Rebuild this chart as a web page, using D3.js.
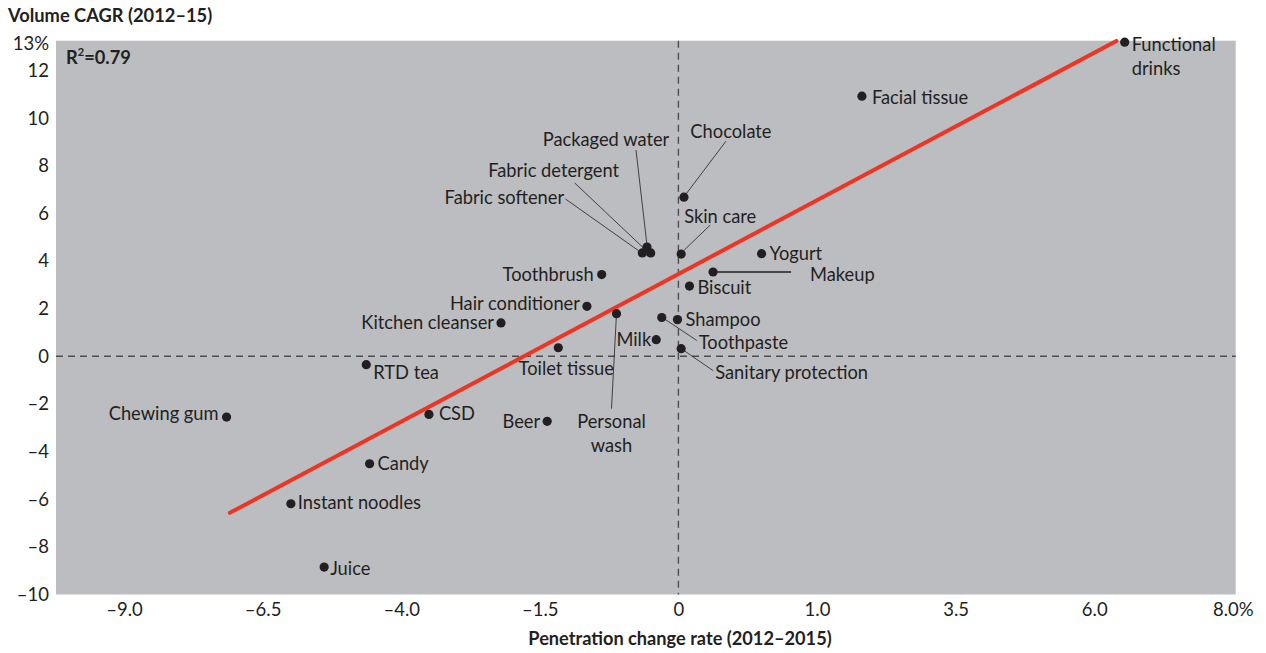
<!DOCTYPE html>
<html><head><meta charset="utf-8">
<script src="https://cdn.jsdelivr.net/npm/d3@7/dist/d3.min.js"></script>
<style>
body{margin:0;background:#fff;}
svg{display:block;font-family:"Lato","Open Sans",sans-serif;}
</style></head><body>
<svg id="c" width="1266" height="653"></svg>
<script>
// ---- data ----
const categories = ["Functional drinks","Facial tissue","Chocolate","Skin care","Packaged water","Fabric detergent","Fabric softener","Toothbrush","Yogurt","Makeup","Biscuit","Hair conditioner","Personal wash","Kitchen cleanser","Shampoo","Toothpaste","Milk","Toilet tissue","Sanitary protection","Beer","RTD tea","Chewing gum","CSD","Candy","Instant noodles","Juice"];
const penetration = [6.44,1.81,0.04,0.02,-0.34,-0.30,-0.39,-0.83,0.60,0.25,0.08,-0.99,-0.67,-2.20,-0.01,-0.18,-0.24,-1.30,0.02,-1.42,-4.63,-7.15,-3.50,-4.57,-5.99,-5.39];
const volumeCAGR = [13.19,10.92,6.68,4.29,4.59,4.34,4.34,3.43,4.31,3.54,2.95,2.10,1.79,1.40,1.54,1.63,0.70,0.36,0.32,-2.73,-0.35,-2.55,-2.44,-4.51,-6.19,-8.85];
const xTickValues = [-9,-6.5,-4,-1.5,0,1,3.5,6,8];
const xTickLabels = ["–9.0","–6.5","–4.0","–1.5","0","1.0","3.5","6.0","8.0%"];
const yTickValues = [-10,-8,-6,-4,-2,0,2,4,6,8,10,12,13];
const yTickLabels = ["–10","–8","–6","–4","–2","0","2","4","6","8","10","12","13%"];
const trendX = [-7.09, 6.32];
const trendY = [-6.57, 13.24];
const rSquared = "0.79";

// ---- label layout (px offsets from dot) ----
const labelLayout = {
  "Functional drinks":{a:"start",dx:7,dy:2,lines:["Functional","drinks"]},
  "Facial tissue":{a:"start",dx:10,dy:1},
  "Chocolate":{a:"middle",dx:47,dy:-66,lead:[42,-56,2,-3]},
  "Skin care":{a:"start",dx:3,dy:-38,lead:[29,-29,3,-4]},
  "Packaged water":{a:"middle",dx:-41,dy:-107,lead:[-11,-97,0,-2]},
  "Fabric detergent":{a:"middle",dx:-97,dy:-82,lead:[-76,-70,-3,-1]},
  "Fabric softener":{a:"middle",dx:-138,dy:-55,lead:[-77,-54,-2,-1]},
  "Toothbrush":{a:"end",dx:-8,dy:0},
  "Yogurt":{a:"start",dx:8,dy:0},
  "Makeup":{a:"start",dx:97,dy:3,lead:[78,0,0,0]},
  "Biscuit":{a:"start",dx:8,dy:2},
  "Hair conditioner":{a:"end",dx:-7,dy:-3},
  "Personal wash":{a:"middle",dx:-5,dy:108,lines:["Personal","wash"],lead:[-5,95,0,0]},
  "Kitchen cleanser":{a:"end",dx:-7,dy:0},
  "Shampoo":{a:"start",dx:8,dy:0},
  "Toothpaste":{a:"start",dx:37,dy:25,lead:[35,23,2,1]},
  "Milk":{a:"end",dx:-5,dy:0},
  "Toilet tissue":{a:"middle",dx:8,dy:21},
  "Sanitary protection":{a:"start",dx:34,dy:24,lead:[32,22,3,2]},
  "Beer":{a:"end",dx:-7,dy:0},
  "RTD tea":{a:"start",dx:7,dy:8},
  "Chewing gum":{a:"end",dx:-8,dy:-3},
  "CSD":{a:"start",dx:10,dy:-1},
  "Candy":{a:"start",dx:8,dy:0},
  "Instant noodles":{a:"start",dx:7,dy:-1},
  "Juice":{a:"start",dx:6,dy:1}
};

// ---- chart ----
const svg = d3.select("#c");
const L = 56, R = 1235.7, T = 40.7, B = 594.5;
const step = 138.6, x0 = 124;
const FS = 18.3;
// polylinear scale: each labelled tick evenly spaced
const xs = d3.scaleLinear()
  .domain(xTickValues)
  .range(xTickValues.map((d,i)=>x0 + i*step));
const y = d3.scaleLinear().domain([-10, 13.25]).range([B, T]);
const ink = "#231f20";

svg.append("rect").attr("x",L).attr("y",T).attr("width",R-L).attr("height",B-T).attr("fill","#bcbdc0");

// dashed zero lines
svg.append("line").attr("x1",L).attr("x2",R).attr("y1",y(0)).attr("y2",y(0))
  .attr("stroke","#4d4d4f").attr("stroke-width",1.4).attr("stroke-dasharray","7,5");
svg.append("line").attr("x1",xs(0)).attr("x2",xs(0)).attr("y1",T).attr("y2",B)
  .attr("stroke","#4d4d4f").attr("stroke-width",1.4).attr("stroke-dasharray","7,5");

// axes
const yAxis = d3.axisLeft(y).tickValues(yTickValues).tickSize(0).tickPadding(7)
  .tickFormat((d,i)=>yTickLabels[i]);
const gy = svg.append("g").attr("transform",`translate(${L},0)`).call(yAxis);
gy.select(".domain").remove();
gy.selectAll("text").attr("font-size",18.5).attr("fill",ink).attr("font-family","Lato");
gy.selectAll(".tick").filter(d=>d===13).attr("transform",`translate(0,${y(13)-3})`);

const xAxis = d3.axisBottom(xs).tickValues(xTickValues).tickSize(0).tickPadding(8)
  .tickFormat((d,i)=>xTickLabels[i]);
const gx = svg.append("g").attr("transform",`translate(0,${B})`).call(xAxis);
gx.select(".domain").remove();
gx.selectAll("text").attr("font-size",18.5).attr("fill",ink).attr("font-family","Lato");

// trend line
svg.append("line")
  .attr("x1",xs(trendX[0])).attr("y1",y(trendY[0]))
  .attr("x2",xs(trendX[1])).attr("y2",y(trendY[1]))
  .attr("stroke","#ee3524").attr("stroke-width",4).attr("stroke-linecap","round");

// points + labels
const pts = categories.map((c,i)=>({c, x:xs(penetration[i]), y:y(volumeCAGR[i])}));
const lg = svg.append("g");
pts.forEach(p=>{
  const l = labelLayout[p.c];
  if(l.lead){
    lg.append("line").attr("x1",p.x+l.lead[0]).attr("y1",p.y+l.lead[1])
      .attr("x2",p.x+l.lead[2]).attr("y2",p.y+l.lead[3])
      .attr("stroke",ink).attr("stroke-width",p.c==="Makeup"?1.3:0.8);
  }
  const lines = l.lines || [p.c];
  const t = lg.append("text").attr("text-anchor",l.a).attr("font-size",FS).attr("fill",ink)
    .attr("x",p.x+l.dx).attr("y",p.y+l.dy);
  lines.forEach((s,k)=>t.append("tspan").attr("x",p.x+l.dx).attr("dy",k===0?"0.35em":"1.32em").text(s));
});
svg.append("g").selectAll("circle").data(pts).join("circle")
  .attr("cx",d=>d.x).attr("cy",d=>d.y).attr("r",4.6).attr("fill",ink);

// titles
svg.append("text").attr("x",8).attr("y",22).attr("font-size",18.3).attr("font-weight","bold")
  .attr("fill",ink).text("Volume CAGR (2012–15)");
svg.append("text").attr("x",680).attr("y",645).attr("text-anchor","middle").attr("font-size",18.2)
  .attr("font-weight","bold").attr("fill",ink).text("Penetration change rate (2012–2015)");
const rt = svg.append("text").attr("x",66).attr("y",64).attr("font-size",18.3).attr("font-weight","bold").attr("fill",ink);
rt.append("tspan").text("R");
rt.append("tspan").attr("font-size",11).attr("dy",-8).text("2");
rt.append("tspan").attr("dy",8).text("=" + rSquared);
</script></body></html>
